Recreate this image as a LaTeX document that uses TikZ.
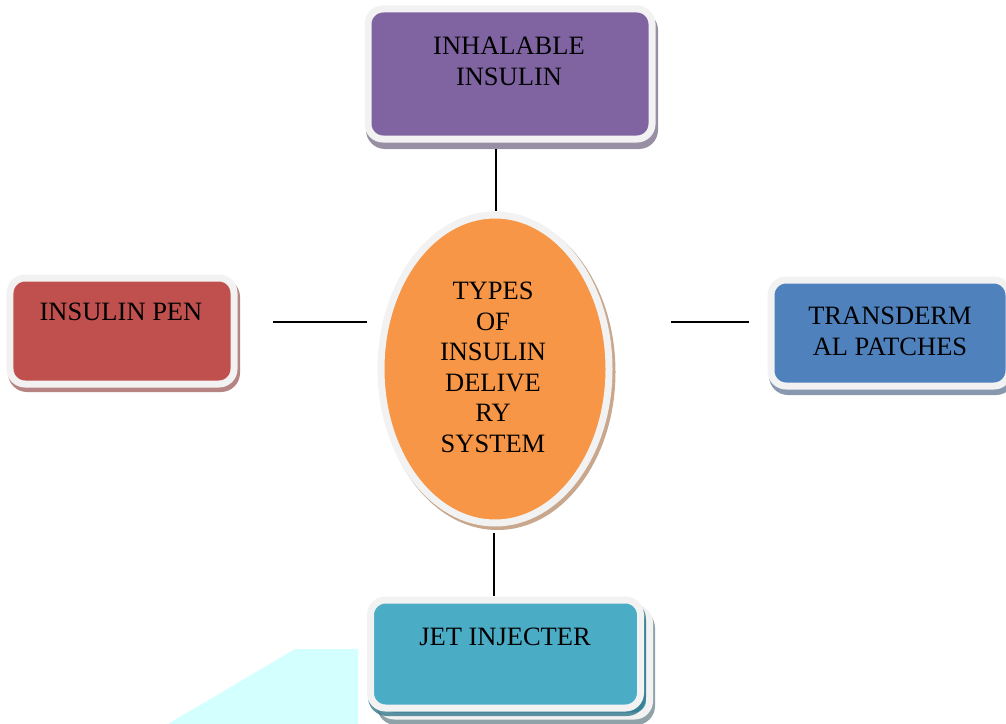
\documentclass[tikz,border=0pt]{standalone}
\usepackage{fontspec}
\setmainfont{Liberation Serif}
\usetikzlibrary{shapes.geometric}
\definecolor{cpurple}{HTML}{8064A2}
\definecolor{cred}{HTML}{C0504D}
\definecolor{cblue}{HTML}{4F81BD}
\definecolor{cteal}{HTML}{4BACC6}
\definecolor{corange}{HTML}{F79646}
\definecolor{cframe}{HTML}{F2F2F2}
\definecolor{ccyan}{HTML}{D4FFFF}
\tikzset{
  box/.style={draw=cframe, line width=7bp, rounded corners=15bp, inner sep=0pt, outer sep=0pt},
  shbox/.style={rounded corners=19bp, inner sep=0pt, outer sep=0pt, draw=none},
  lbl/.style={inner sep=0pt, anchor=north, align=center, font=\fontsize{26.5bp}{30.5bp}\selectfont},
  conn/.style={draw=black, line width=2.3bp},
}
\begin{document}
\begin{tikzpicture}[x=1bp,y=-1bp]
\useasboundingbox (0,0) rectangle (1006,724);
\clip (0,0) rectangle (1006,724);
% stray cyan shape
\fill[ccyan] (168,724) -- (295,649) -- (358,649) -- (358,724) -- cycle;

% inhalable insulin
\node[shbox, fill=cpurple!45!gray, opacity=0.8, minimum width=292bp, minimum height=138bp] (inhS) at (512,80) {};
\node[box, fill=cpurple, minimum width=284bp, minimum height=130bp] (inh) at (510,74) {};
\node[lbl] (inhT) at (509,37) {INHALABLE\\INSULIN};

% insulin pen
\node[shbox, fill=cred!55!gray, opacity=0.8, minimum width=232bp, minimum height=114bp] (penS) at (124,335) {};
\node[box, fill=cred, minimum width=224bp, minimum height=106bp] (pen) at (122,331) {};
\node[lbl] (penT) at (121,303) {INSULIN PEN};

% transdermal patches
\node[shbox, fill=cblue!45!gray, opacity=0.8, minimum width=246bp, minimum height=114bp] (tdpS) at (892,338) {};
\node[box, fill=cblue, minimum width=238bp, minimum height=106bp] (tdp) at (890,333) {};
\node[lbl] (tdpT) at (890,307) {TRANSDERM\\AL PATCHES};

% jet injecter (stacked)
\node[shbox, fill=gray!75!cteal, opacity=0.8, minimum width=278bp, minimum height=116bp] (jetBS) at (516,667) {};
\node[box, fill=cteal, minimum width=270bp, minimum height=108bp] (jetB) at (514.5,662) {};
\node[shbox, fill=cteal!70!black, opacity=0.8, minimum width=278bp, minimum height=116bp] (jetS) at (507,658) {};
\node[box, fill=cteal, minimum width=270bp, minimum height=108bp] (jet) at (505.5,654) {};
\node[lbl] (jetT) at (505,628) {JET INJECTER};

% centre ellipse
\node[ellipse, draw=none, fill=corange!45!gray, opacity=0.75, inner sep=0pt, outer sep=0pt, minimum width=236bp, minimum height=316bp] (ellS) at (497.5,372) {};
\node[ellipse, draw=cframe, line width=7bp, fill=corange, inner sep=0pt, outer sep=0pt, minimum width=228bp, minimum height=308bp] (ell) at (495,369) {};
\node[lbl] (ellT) at (493,282) {TYPES\\OF\\INSULIN\\DELIVE\\RY\\SYSTEM};

% connectors
\draw[conn] ([shift={(1,-4)}]ell.north) -- ([shift={(1,10)}]ell.north |- inh.south);
\draw[conn] ([shift={(39,-9)}]pen.east) -- ([shift={(-14,-47)}]ell.west);
\draw[conn] ([shift={(62,-47)}]ell.east) -- ([shift={(-22,-11)}]tdp.west);
\draw[conn] ([shift={(-1,10)}]ell.south) -- ([shift={(-1,-4)}]ell.south |- jet.north);
\end{tikzpicture}
\end{document}
